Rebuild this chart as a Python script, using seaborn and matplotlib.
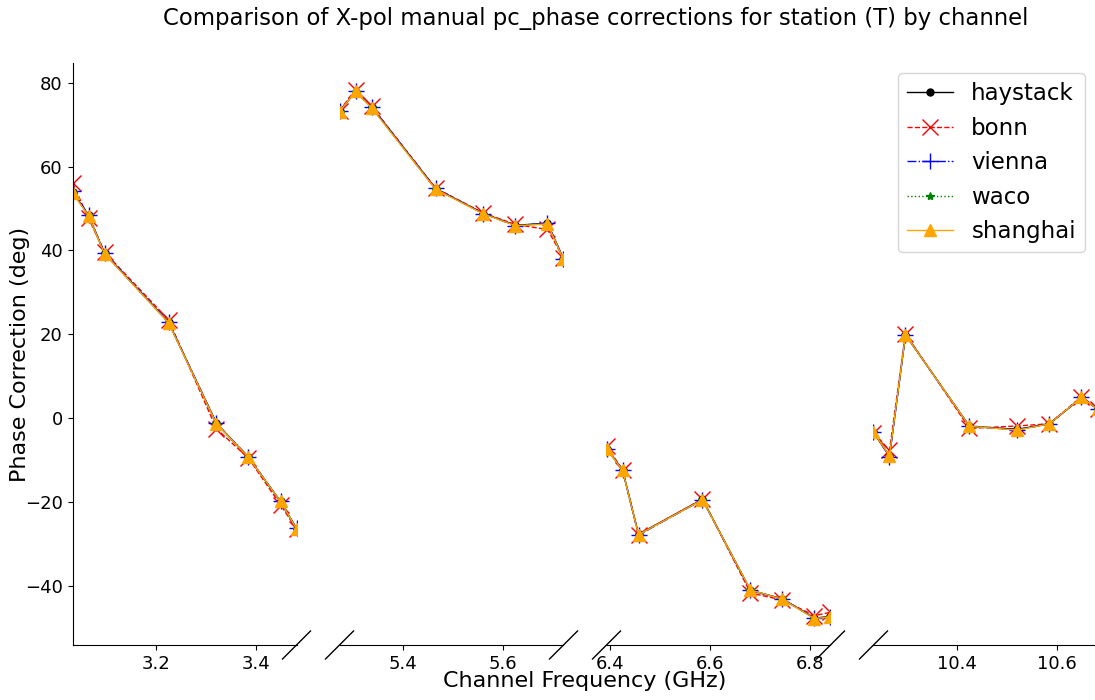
import numpy as np
import pandas as pd
import matplotlib
matplotlib.use("Agg")
import matplotlib.pyplot as plt
from matplotlib.ticker import MultipleLocator
from matplotlib.lines import Line2D
import seaborn as sns

# ---------------- data ----------------
band_a = [3.0324, 3.0644, 3.0964, 3.2244, 3.3204, 3.3844, 3.4484, 3.4804]
band_b = [5.2724, 5.3044, 5.3364, 5.4644, 5.5604, 5.6244, 5.6884, 5.7204]
band_c = [6.3924, 6.4244, 6.4564, 6.5844, 6.6804, 6.7444, 6.8084, 6.8404]
band_d = [10.2324, 10.2644, 10.2964, 10.4244, 10.5204, 10.5844, 10.6484, 10.6804]
bands = [band_a, band_b, band_c, band_d]

stations = ["haystack", "bonn", "vienna", "waco", "shanghai"]

haystack = [54.0, 48.4, 39.3, 22.9, -1.2, -9.3, -19.8, -26.3,
            73.2, 77.8, 74.2, 54.7, 48.8, 46.0, 46.5, 38.0,
            -7.2, -12.2, -27.6, -19.3, -41.0, -43.0, -47.6, -47.2,
            -3.4, -9.0, 19.9, -1.9, -2.6, -1.3, 4.9, 2.2]
bonn = [56.1, 47.7, 39.6, 23.5, -2.5, -9.5, -20.6, -26.4,
        73.3, 78.3, 74.4, 54.9, 48.9, 46.2, 45.0, 38.2,
        -6.5, -12.3, -27.7, -19.2, -41.6, -43.3, -47.0, -46.2,
        -3.5, -7.6, 20.2, -2.4, -1.8, -1.3, 5.2, 2.3]
vienna = [54.2, 48.5, 39.4, 23.0, -1.2, -9.2, -19.8, -26.2,
          73.2, 77.9, 74.3, 54.8, 48.8, 45.9, 46.5, 38.0,
          -7.3, -12.2, -27.8, -19.4, -41.0, -43.1, -47.6, -47.3,
          -3.3, -9.1, 19.9, -1.9, -2.7, -1.3, 5.0, 2.3]
waco = [54.0, 48.4, 39.3, 22.8, -1.3, -9.3, -19.8, -26.3,
        73.1, 77.8, 74.2, 54.7, 48.8, 45.9, 46.4, 37.9,
        -7.3, -12.3, -27.7, -19.4, -40.9, -43.1, -47.7, -47.3,
        -3.3, -8.9, 19.9, -1.9, -2.8, -1.3, 5.0, 2.2]
shanghai = [53.7, 48.3, 39.2, 22.8, -1.3, -9.3, -19.8, -26.3,
            73.1, 77.9, 74.0, 54.6, 48.7, 45.9, 46.3, 37.9,
            -7.3, -12.3, -27.7, -19.4, -40.9, -43.1, -47.7, -47.3,
            -3.3, -8.9, 19.9, -1.9, -2.8, -1.3, 5.0, 2.2]
values = {"haystack": haystack, "bonn": bonn, "vienna": vienna,
          "waco": waco, "shanghai": shanghai}

title = "Comparison of X-pol manual pc_phase corrections for station (T) by channel"
xlabel = "Channel Frequency (GHz)"
ylabel = "Phase Correction (deg)"

# ---------------- styles ----------------
styles = {
    "haystack": dict(color="black", linestyle="-", marker=".", markersize=10),
    "bonn": dict(color="red", linestyle="--", marker="x", markersize=11),
    "vienna": dict(color="blue", linestyle="-.", marker="+", markersize=12),
    "waco": dict(color="green", linestyle=":", marker="*", markersize=6),
    "shanghai": dict(color="orange", linestyle="-", marker="^", markersize=8),
}
for s in styles.values():
    s["markeredgecolor"] = s["color"]
    s["markerfacecolor"] = s["color"]
    s["markeredgewidth"] = 1.0

# long dataframe
all_freqs = sum(bands, [])
band_idx = sum([[i] * len(b) for i, b in enumerate(bands)], [])
rows = []
for st in stations:
    for f, b, v in zip(all_freqs, band_idx, values[st]):
        rows.append((st, b, f, v))
df = pd.DataFrame(rows, columns=["station", "band", "freq", "phase"])

# ---------------- figure ----------------
W, H = 1095, 700
fig = plt.figure(figsize=(W / 100, H / 100), dpi=100)

px_per_ghz = 500.0
gap_px = 43.0
left0 = 72.5
top_px, bot_px = 63.3, 645.0
ylim = (-54.0, 84.6)

axes = []
cur = left0
for i, b in enumerate(bands):
    lo, hi = min(b), max(b)
    wpx = (hi - lo) * px_per_ghz
    ax = fig.add_axes([cur / W, 1 - bot_px / H, wpx / W, (bot_px - top_px) / H])
    sub = df[df.band == i]
    for st in stations:
        d = sub[sub.station == st]
        sns.lineplot(data=d, x="freq", y="phase", ax=ax, lw=1, sort=False,
                     label=st if i == 0 else None, **styles[st])
    ax.set_xlim(lo, hi)
    ax.set_ylim(*ylim)
    ax.xaxis.set_major_locator(MultipleLocator(0.2))
    ax.set_xlabel("")
    ax.set_ylabel("")
    ax.spines["top"].set_visible(False)
    ax.spines["right"].set_visible(False)
    ax.tick_params(axis="both", labelsize=13)
    if i > 0:
        ax.spines["left"].set_visible(False)
        ax.tick_params(axis="y", left=False, labelleft=False)
    if ax.get_legend() is not None:
        ax.get_legend().remove()
    axes.append((ax, cur, cur + wpx))
    cur += wpx + gap_px

# break marks
d = 14
for k, (ax, l, r) in enumerate(axes):
    ends = []
    if k > 0:
        ends.append(l)
    if k < len(axes) - 1:
        ends.append(r)
    for e in ends:
        fig.add_artist(Line2D([(e - d) / W, (e + d) / W],
                              [1 - (bot_px + d) / H, 1 - (bot_px - d) / H],
                              transform=fig.transFigure, color="black", lw=1))

handles, labels = axes[0][0].get_legend_handles_labels()
fig.legend(handles, labels, loc="upper right", bbox_to_anchor=(1085 / W, 1 - 73 / H),
           borderaxespad=0, fontsize=16.5)

fig.text(596 / W, 1 - 18 / H, title, ha="center", va="center", fontsize=16.4)
fig.text(585 / W, 1 - 681 / H, xlabel, ha="center", va="center", fontsize=16)
fig.text(20 / W, 1 - 354 / H, ylabel, ha="center", va="center", rotation=90, fontsize=16)

fig.savefig("out.png", dpi=100)
